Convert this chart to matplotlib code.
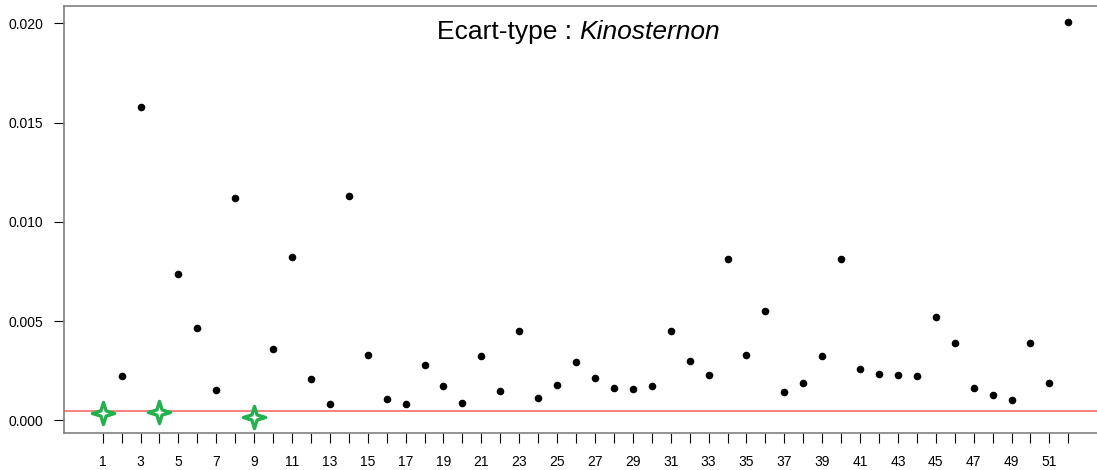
import matplotlib.pyplot as plt
from matplotlib.path import Path
import numpy as np

plt.rcParams['font.family'] = ['Liberation Sans', 'DejaVu Sans']

# valeurs
positions = list(range(1, 53))
ecart_type = [0.00035, 0.00222, 0.0158, 0.0004, 0.00739, 0.00463, 0.00151, 0.0112,
              0.00017, 0.00361, 0.00821, 0.00208, 0.00084, 0.01128, 0.00330, 0.00107,
              0.00084, 0.0028, 0.00173, 0.00089, 0.00325, 0.00148, 0.0045, 0.00111,
              0.00178, 0.00294, 0.00213, 0.00164, 0.00159, 0.00173, 0.0045, 0.00299,
              0.00227, 0.00813, 0.0033, 0.00549, 0.00141, 0.00186, 0.00325, 0.00813,
              0.00258, 0.00232, 0.00227, 0.00222, 0.00522, 0.00388, 0.00164, 0.00129,
              0.00102, 0.00388, 0.00186, 0.02008]
points_faibles = [1, 4, 9]  # marqués d'une étoile verte
seuil = 0.00048
titre = "Ecart-type : "
genre = "Kinosternon"

# étoile à 4 branches
ang = np.arange(8) * np.pi / 4 + np.pi / 2
rayons = np.where(np.arange(8) % 2 == 0, 1.0, 0.33)
sommets = np.column_stack([rayons * np.cos(ang), rayons * np.sin(ang)])
sommets = np.vstack([sommets, sommets[:1]])
etoile = Path(sommets, [Path.MOVETO] + [Path.LINETO] * 7 + [Path.CLOSEPOLY])

fig = plt.figure(figsize=(10.97, 4.70), dpi=100)
ax = fig.add_axes([64 / 1097, 37 / 470, 1043 / 1097, 427.3 / 470])

normaux = [p for p in positions if p not in points_faibles]
ax.scatter(normaux, [ecart_type[p - 1] for p in normaux], s=20, color='black', zorder=3)
ax.plot(points_faibles, [ecart_type[p - 1] for p in points_faibles], linestyle='none',
        marker=etoile, markersize=16, markerfacecolor='white',
        markeredgecolor='#22b14c', markeredgewidth=2.4, zorder=4)
ax.axhline(seuil, color='#ff7f7f', lw=1.4, zorder=2)

ax.set_xlim(-1.04, 54.04)
ax.set_ylim(-0.00064, 0.02089)
ax.set_xticks(positions)
ax.set_xticklabels([str(p) if p % 2 == 1 else '' for p in positions])
ax.set_yticks([0, 0.005, 0.010, 0.015, 0.020])
ax.set_yticklabels(['0.000', '0.005', '0.010', '0.015', '0.020'])
ax.tick_params(length=7, width=0.8, labelsize=10, color='black', pad=8)
ax.tick_params(axis='x', pad=9)
for s in ax.spines.values():
    s.set_color('#808080')
    s.set_linewidth(1.2)

t = fig.text(437 / 1097, 1 - 32 / 470, titre, fontsize=19, va='center', ha='left')
fig.canvas.draw()
bb = t.get_window_extent()
fig.text(bb.x1 / fig.bbox.width, 1 - 32 / 470, genre, fontsize=19, va='center', ha='left',
         style='italic')

fig.savefig('out.png', dpi=100)
